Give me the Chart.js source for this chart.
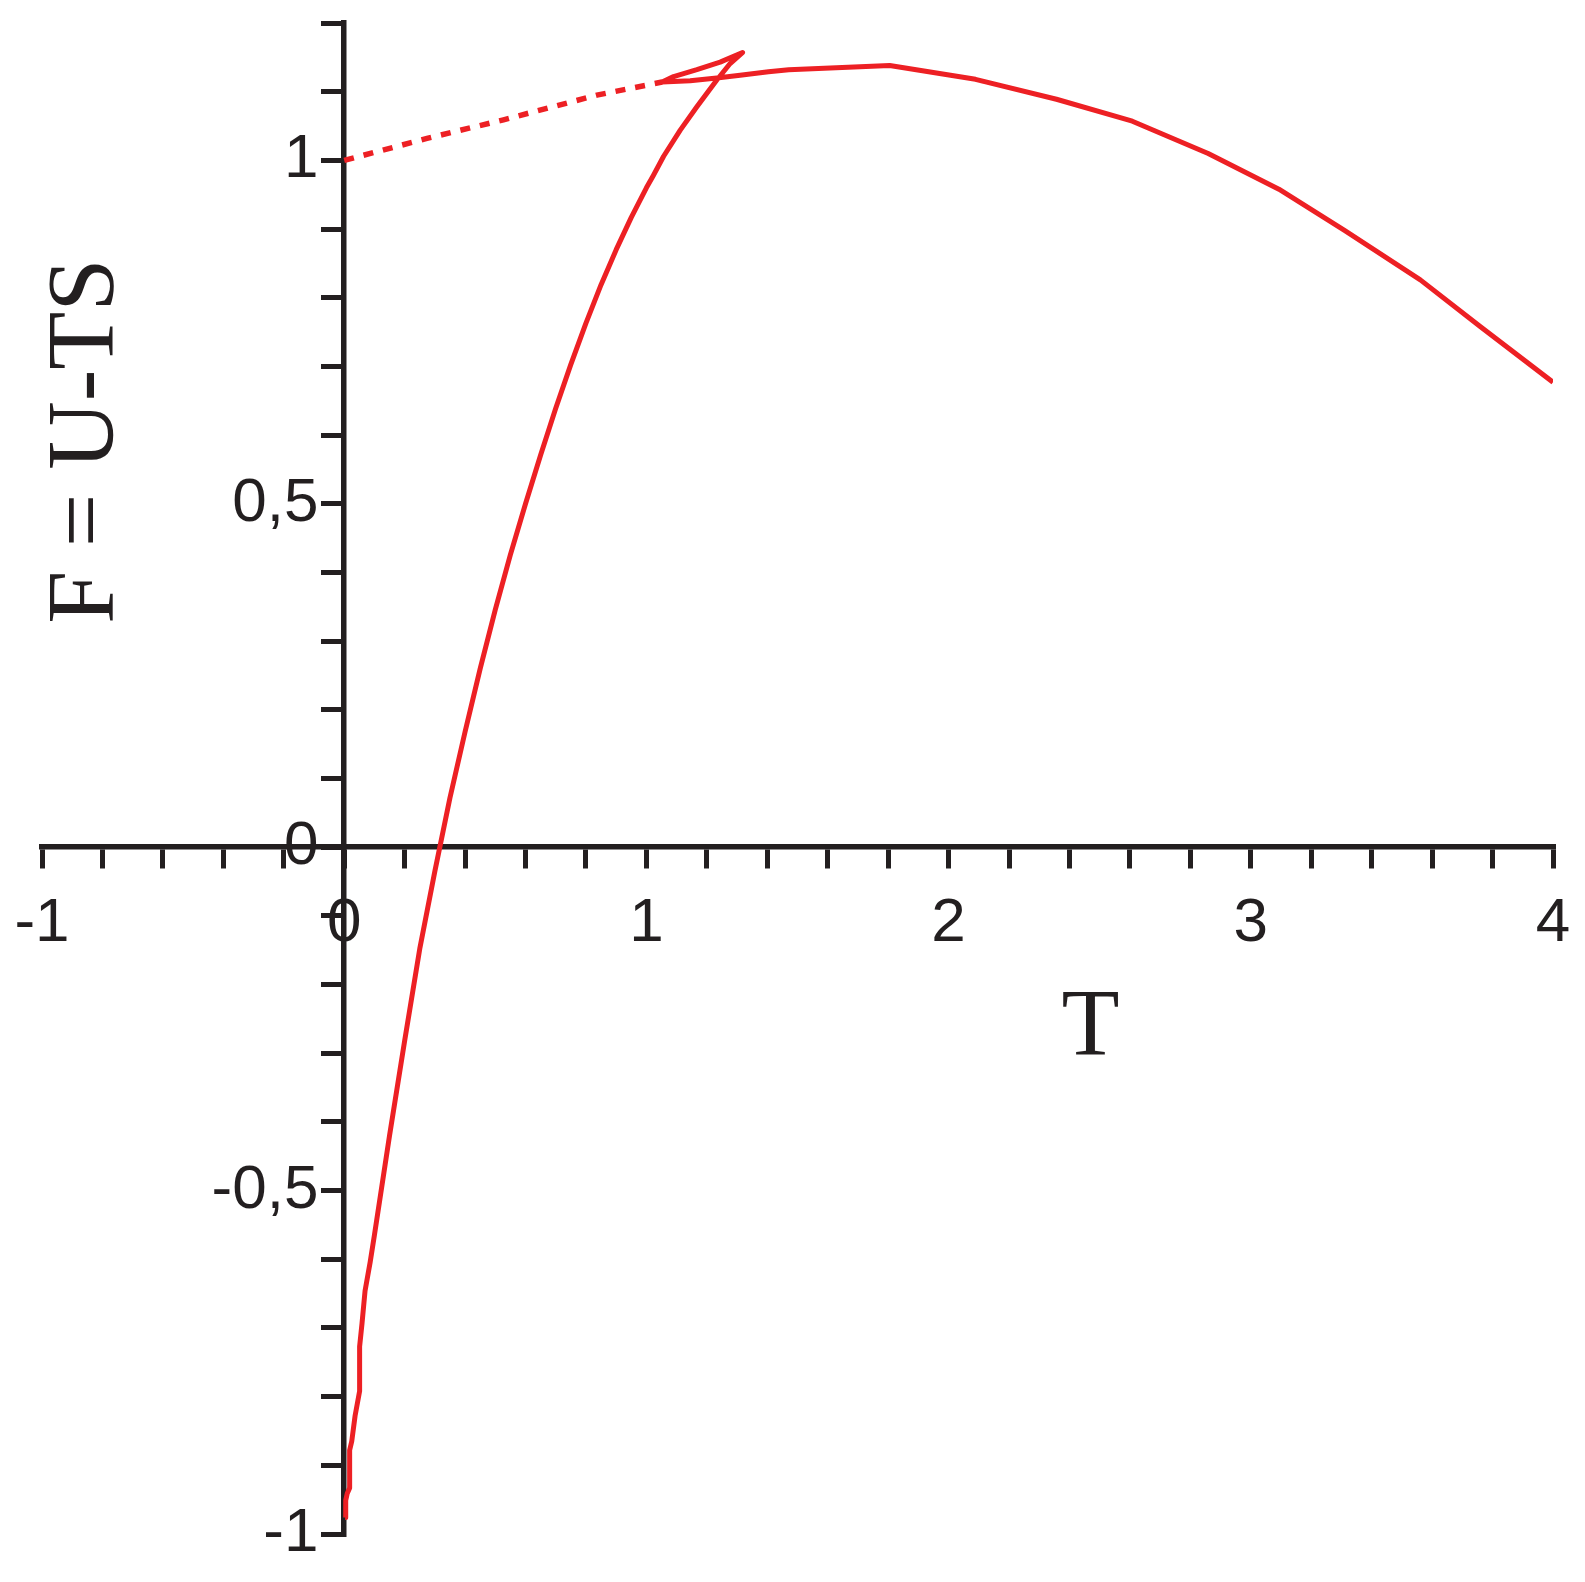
<!DOCTYPE html>
<html>
<head>
<meta charset="utf-8">
<script src="https://cdn.jsdelivr.net/npm/chart.js@4.4.1/dist/chart.umd.min.js"></script>
<style>
  html, body { margin: 0; padding: 0; background: #fff; }
  canvas { display: block; }
</style>
</head>
<body>
<canvas id="freeEnergy" width="1585" height="1582"></canvas>
<script>
// F = U - TS plotted against T
const branchT = [0.003, 0.005, 0.010, 0.018, 0.018, 0.025, 0.036, 0.051, 0.051, 0.059,
  0.069, 0.086, 0.10, 0.15, 0.20, 0.25, 0.30, 0.35, 0.40, 0.45,
  0.50, 0.55, 0.60, 0.65, 0.70, 0.75, 0.80, 0.85, 0.90, 0.95,
  1.00, 1.023, 1.057, 1.112, 1.167, 1.233, 1.277, 1.318, 1.244, 1.167,
  1.090, 1.052, 1.145, 1.233, 1.310, 1.404, 1.471, 1.805, 2.089, 2.357,
  2.608, 2.859, 3.093, 3.310, 3.561, 3.759, 4.000];
const branchF = [-0.976, -0.951, -0.941, -0.933, -0.878, -0.865, -0.828, -0.792, -0.727, -0.693,
  -0.646, -0.604, -0.565, -0.420, -0.282, -0.148, -0.035, 0.072, 0.168, 0.260,
  0.346, 0.426, 0.500, 0.571, 0.639, 0.703, 0.763, 0.819, 0.870, 0.917,
  0.960, 0.978, 1.006, 1.044, 1.078, 1.117, 1.141, 1.157, 1.143, 1.132,
  1.122, 1.114, 1.116, 1.120, 1.124, 1.129, 1.132, 1.138, 1.118, 1.089,
  1.057, 1.010, 0.958, 0.898, 0.826, 0.758, 0.677];

// dotted branch from F(0) = 1 up to the left tip of the swallowtail
const dottedT = [0, 0.274, 0.527, 0.836, 1.052];
const dottedF = [1.0, 1.032, 1.059, 1.095, 1.114];

const xLabelled = [-1, 0, 1, 2, 3, 4];
const yLabelled = [-1, -0.5, 0, 0.5, 1];

const red = "#ed2024";
const ink = "#231f20";
const tickFont = { family: "'Liberation Sans', Arial, sans-serif", size: 62 };

function toPoints(xs, ys) {
  return xs.map((x, i) => ({ x: x, y: ys[i] }));
}

// only some ticks get a label, with a decimal comma
function commaLabel(list, value) {
  const hit = list.find(v => Math.abs(v - value) < 1e-6);
  return hit === undefined ? "" : String(hit).replace(".", ",");
}

function noPadding(scale) {
  scale.paddingLeft = 0;
  scale.paddingRight = 0;
  scale.paddingTop = 0;
  scale.paddingBottom = 0;
}

const axisTitles = {
  id: "axisTitles",
  afterDatasetsDraw(chart) {
    const { ctx, scales: { x, y } } = chart;
    ctx.save();
    ctx.fillStyle = ink;
    ctx.font = "95px 'Liberation Serif', 'Times New Roman', serif";
    ctx.textAlign = "center";
    ctx.textBaseline = "middle";
    ctx.fillText("T", x.getPixelForValue(2.47), y.getPixelForValue(-0.266));
    ctx.translate(x.getPixelForValue(-0.847), y.getPixelForValue(0.591));
    ctx.rotate(-Math.PI / 2);
    ctx.fillText("F = U-TS", 0, 0);
    ctx.restore();
  }
};

new Chart("freeEnergy", {
  type: "scatter",
  data: {
    datasets: [{
      data: toPoints(branchT, branchF),
      showLine: true,
      borderColor: red,
      borderWidth: 5,
      pointRadius: 0,
      tension: 0,
      borderJoinStyle: "round"
    }, {
      data: toPoints(dottedT, dottedF),
      showLine: true,
      borderColor: red,
      borderWidth: 5.5,
      borderDash: [10, 10],
      pointRadius: 0,
      tension: 0
    }]
  },
  options: {
    responsive: false,
    animation: false,
    layout: { padding: { left: 42, right: 32, top: 23, bottom: 48 } },
    plugins: {
      legend: { display: false },
      tooltip: { enabled: false }
    },
    scales: {
      x: {
        type: "linear",
        min: -1,
        max: 4,
        position: { y: 0 },
        grid: { drawOnChartArea: false, tickLength: 19, lineWidth: 5, color: ink },
        border: { color: ink, width: 5.5 },
        ticks: {
          stepSize: 0.2,
          autoSkip: false,
          maxRotation: 0,
          padding: 21,
          color: ink,
          font: tickFont,
          callback: v => commaLabel(xLabelled, v)
        },
        afterFit: noPadding
      },
      y: {
        type: "linear",
        min: -1,
        max: 1.2,
        position: { x: 0 },
        grid: { drawOnChartArea: false, tickLength: 20, lineWidth: 5, color: ink },
        border: { color: ink, width: 5.5 },
        ticks: {
          stepSize: 0.1,
          autoSkip: false,
          color: ink,
          font: tickFont,
          callback: v => {
            const s = commaLabel(yLabelled, v);
            return s ? s + "\u2005\u2006" : "";
          }
        },
        afterFit: noPadding
      }
    }
  },
  plugins: [axisTitles]
});
</script>
</body>
</html>
